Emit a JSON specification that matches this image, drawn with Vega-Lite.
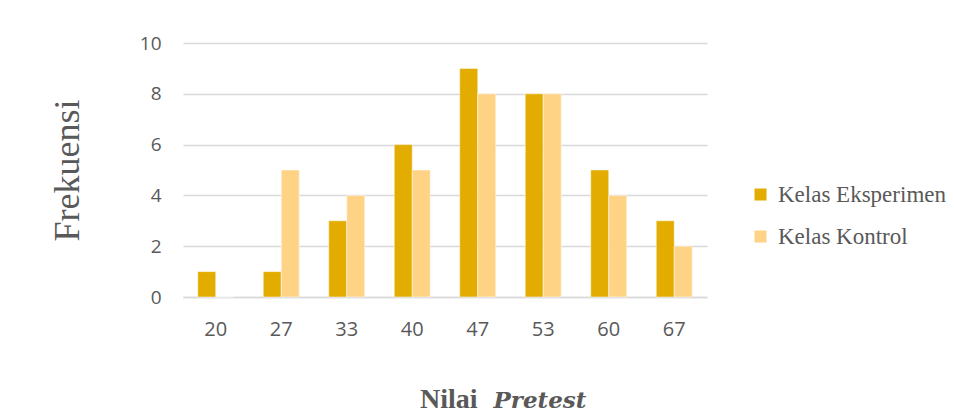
{
  "$schema": "https://vega.github.io/schema/vega-lite/v6.json",
  "width": 524,
  "height": 254,
  "autosize": {"type": "none"},
  "padding": {"left": 183, "top": 43, "right": 247, "bottom": 116},
  "background": "white",
  "data": {
    "values": [
      {"nilai": "20", "kelas": "Kelas Eksperimen", "frekuensi": 1},
      {"nilai": "20", "kelas": "Kelas Kontrol", "frekuensi": 0},
      {"nilai": "27", "kelas": "Kelas Eksperimen", "frekuensi": 1},
      {"nilai": "27", "kelas": "Kelas Kontrol", "frekuensi": 5},
      {"nilai": "33", "kelas": "Kelas Eksperimen", "frekuensi": 3},
      {"nilai": "33", "kelas": "Kelas Kontrol", "frekuensi": 4},
      {"nilai": "40", "kelas": "Kelas Eksperimen", "frekuensi": 6},
      {"nilai": "40", "kelas": "Kelas Kontrol", "frekuensi": 5},
      {"nilai": "47", "kelas": "Kelas Eksperimen", "frekuensi": 9},
      {"nilai": "47", "kelas": "Kelas Kontrol", "frekuensi": 8},
      {"nilai": "53", "kelas": "Kelas Eksperimen", "frekuensi": 8},
      {"nilai": "53", "kelas": "Kelas Kontrol", "frekuensi": 8},
      {"nilai": "60", "kelas": "Kelas Eksperimen", "frekuensi": 5},
      {"nilai": "60", "kelas": "Kelas Kontrol", "frekuensi": 4},
      {"nilai": "67", "kelas": "Kelas Eksperimen", "frekuensi": 3},
      {"nilai": "67", "kelas": "Kelas Kontrol", "frekuensi": 2}
    ]
  },
  "title": {
    "text": "Nilai",
    "orient": "bottom",
    "anchor": "start",
    "frame": "group",
    "dx": 237,
    "offset": -4,
    "baseline": "alphabetic",
    "font": "Liberation Serif",
    "fontSize": 28,
    "fontWeight": "bold",
    "color": "#595959"
  },
  "mark": {"type": "bar", "stroke": "white", "strokeWidth": 0.5},
  "encoding": {
    "x": {
      "field": "nilai",
      "type": "ordinal",
      "sort": null,
      "scale": {"paddingInner": 0.45, "paddingOuter": 0.225},
      "axis": {
        "title": "Pretest",
        "titleFont": "DejaVu Serif",
        "titleFontSize": 23,
        "titleFontWeight": "bold",
        "titleFontStyle": "italic",
        "titleColor": "#595959",
        "titleAlign": "left",
        "titleAnchor": "start",
        "titleBaseline": "alphabetic",
        "titleX": 310,
        "titleY": 110,
        "labelAngle": 0,
        "labelFont": "Open Sans",
        "labelFontSize": 20,
        "labelColor": "#595959",
        "labelBaseline": "alphabetic",
        "labelPadding": 38,
        "ticks": false,
        "domainColor": "#D9D9D9",
        "domainWidth": 1.5
      }
    },
    "xOffset": {"field": "kelas", "type": "nominal", "scale": {"paddingInner": 0, "paddingOuter": 0}},
    "y": {
      "field": "frekuensi",
      "type": "quantitative",
      "scale": {"domain": [0, 10]},
      "axis": {
        "values": [0, 2, 4, 6, 8, 10],
        "title": "Frekuensi",
        "titleFont": "Liberation Serif",
        "titleFontSize": 36,
        "titleFontWeight": "normal",
        "titleColor": "#595959",
        "titleAngle": -90,
        "titleAlign": "center",
        "titleBaseline": "alphabetic",
        "titleX": -105,
        "titleY": 127,
        "labelFont": "Open Sans",
        "labelFontSize": 19,
        "labelColor": "#595959",
        "labelPadding": 22,
        "ticks": false,
        "domain": false,
        "gridColor": "#D9D9D9",
        "gridWidth": 1.5
      }
    },
    "color": {
      "field": "kelas",
      "type": "nominal",
      "scale": {"domain": ["Kelas Eksperimen", "Kelas Kontrol"], "range": ["#E2AC00", "#FFD386"]},
      "legend": {
        "title": null,
        "orient": "none",
        "legendX": 566,
        "legendY": 140,
        "symbolType": "square",
        "symbolSize": 144,
        "symbolStrokeWidth": 0,
        "labelFont": "Liberation Serif",
        "labelFontSize": 23,
        "labelColor": "#595959",
        "labelOffset": 6,
        "labelLimit": 400,
        "rowPadding": 18
      }
    }
  },
  "config": {"view": {"stroke": null}}
}
